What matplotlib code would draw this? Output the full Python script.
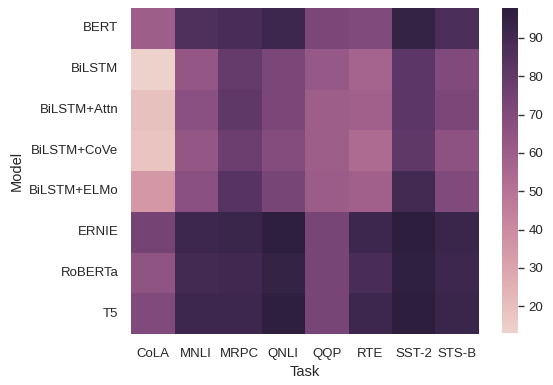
import matplotlib
matplotlib.use("Agg")
import matplotlib.pyplot as plt
import seaborn as sns
import pandas as pd

models = ["BERT", "BiLSTM", "BiLSTM+Attn", "BiLSTM+CoVe", "BiLSTM+ELMo",
          "ERNIE", "RoBERTa", "T5"]
tasks = ["CoLA", "MNLI", "MRPC", "QNLI", "QQP", "RTE", "SST-2", "STS-B"]

# scores per model, in task order
bert = [60, 86, 88, 92, 72, 70, 95, 87]
bilstm = [13, 64, 79, 72, 63, 57, 82, 70]
bilstm_attn = [19, 67, 81, 72, 60, 59, 82, 72]
bilstm_cove = [18, 64, 77, 69, 60, 54, 81, 66]
bilstm_elmo = [35, 67, 84, 73, 61, 59, 90, 70]
ernie = [74, 92, 93, 97, 73, 92, 97.8, 93]
roberta = [65, 90, 91, 95, 73, 88, 96.7, 92]
t5 = [70, 92, 92, 96.9, 73, 92, 97.5, 93]

scores = pd.DataFrame([bert, bilstm, bilstm_attn, bilstm_cove, bilstm_elmo,
                       ernie, roberta, t5], index=models, columns=tasks)
scores.index.name = "Model"
scores.columns.name = "Task"

sns.set_theme(style="white")
plt.rcParams["font.family"] = ["Liberation Sans", "DejaVu Sans"]

fig = plt.figure(figsize=(5.53, 3.85), dpi=100)
ax = fig.add_axes([131 / 553, 1 - 334 / 385, 348 / 553, 326 / 385])
cax = fig.add_axes([502 / 553, 1 - 333 / 385, 16 / 553, 325 / 385])

sns.heatmap(scores, ax=ax, cbar_ax=cax,
            cmap=sns.cubehelix_palette(as_cmap=True))

ax.tick_params(axis="x", labelsize=9.5, length=0, pad=10)
ax.tick_params(axis="y", labelsize=9.5, length=0, pad=9)
ax.set_xlabel("Task", fontsize=10.5)
ax.set_ylabel("Model", fontsize=10.5)
cax.tick_params(labelsize=9.5, right=True, length=4, width=1, color="#333333")
for s in cax.spines.values():
    s.set_visible(False)

fig.savefig("out.png", dpi=100)
